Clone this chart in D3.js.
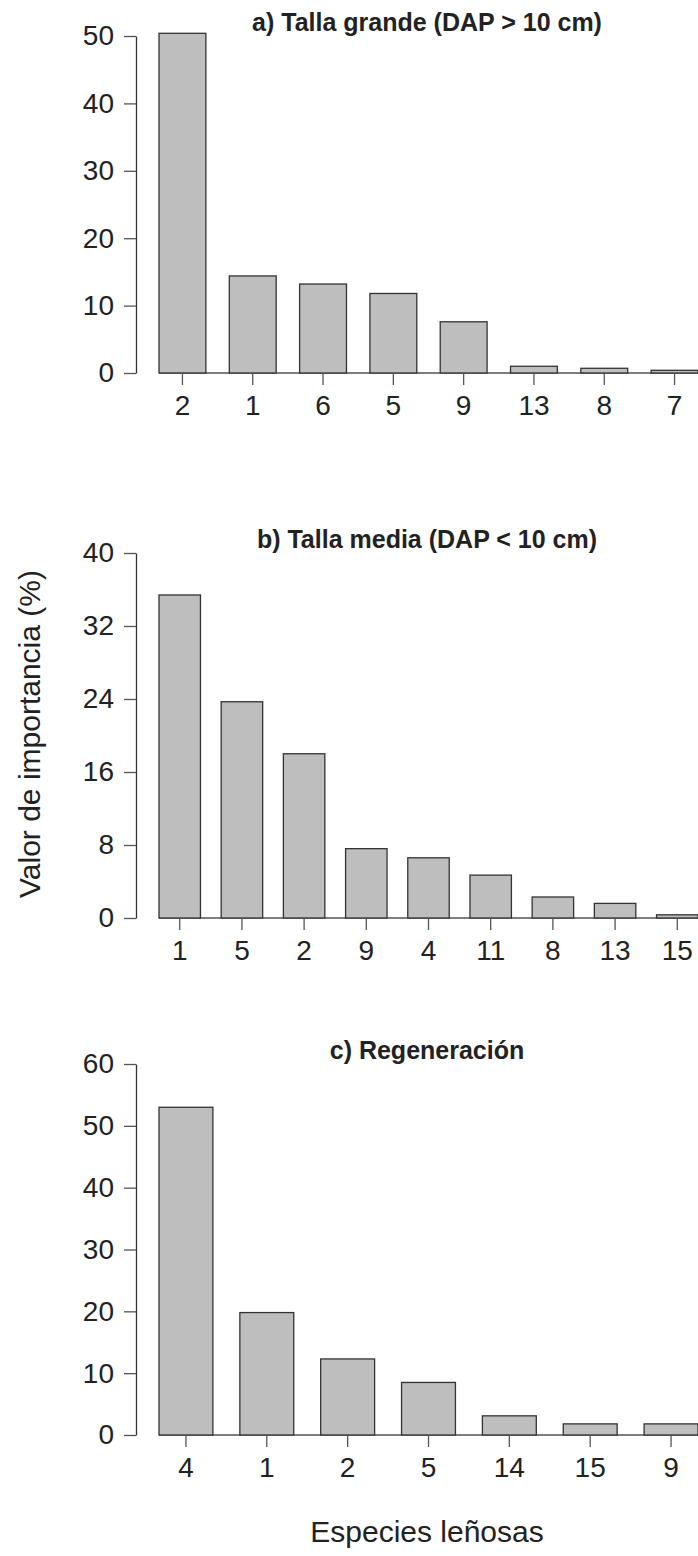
<!DOCTYPE html>
<html>
<head>
<meta charset="utf-8">
<script src="https://cdn.jsdelivr.net/npm/d3@7"></script>
<style>
  body { margin: 0; background: #fff; }
  svg { display: block; }
  text { font-family: "Liberation Sans", Arial, sans-serif; fill: #222; }
</style>
</head>
<body>
<div id="chart"></div>
<script>
// species order and importance values (%) per panel
var catsA = ["2", "1", "6", "5", "9", "13", "8", "7"];
var valsA = [50.4, 14.4, 13.2, 11.8, 7.6, 1.0, 0.7, 0.4];
var ticksA = [0, 10, 20, 30, 40, 50];

var catsB = ["1", "5", "2", "9", "4", "11", "8", "13", "15"];
var valsB = [35.4, 23.7, 18.0, 7.6, 6.6, 4.7, 2.3, 1.6, 0.35];
var ticksB = [0, 8, 16, 24, 32, 40];

var catsC = ["4", "1", "2", "5", "14", "15", "9"];
var valsC = [53.0, 19.8, 12.3, 8.5, 3.1, 1.8, 1.8];
var ticksC = [0, 10, 20, 30, 40, 50, 60];

var titles = ["a) Talla grande (DAP > 10 cm)", "b) Talla media (DAP < 10 cm)", "c) Regeneración"];

var width = 698, height = 1556;
var axisX = 136, barLeft = 159, barRight = 698, titleX = 427;

var svg = d3.select("#chart").append("svg")
    .attr("width", width)
    .attr("height", height);

function panel(cats, vals, ticks, title, top, base) {
    var x = d3.scaleBand()
        .domain(cats)
        .range([barLeft, barRight])
        .paddingInner(1 / 3)
        .paddingOuter(0);

    var y = d3.scaleLinear()
        .domain([0, d3.max(ticks)])
        .range([base, top]);

    var g = svg.append("g");

    // baseline
    g.append("line")
        .attr("x1", barLeft).attr("x2", barRight)
        .attr("y1", y(0)).attr("y2", y(0))
        .attr("stroke", "#555").attr("stroke-width", 1.5);

    g.selectAll(".bar")
        .data(vals)
        .enter().append("rect")
        .attr("class", "bar")
        .attr("x", function (d, i) { return x(cats[i]); })
        .attr("y", function (d) { return y(d); })
        .attr("width", x.bandwidth())
        .attr("height", function (d) { return y(0) - y(d); })
        .attr("fill", "#bebebe")
        .attr("stroke", "#333")
        .attr("stroke-width", 1.3);

    // y axis
    var ya = g.append("g")
        .attr("transform", "translate(" + axisX + ",0)")
        .call(d3.axisLeft(y).tickValues(ticks).tickSize(12).tickSizeOuter(0).tickPadding(10));
    ya.select(".domain").attr("stroke", "#333").attr("stroke-width", 1.3);
    ya.selectAll(".tick line").attr("stroke", "#555").attr("stroke-width", 1.3);
    ya.selectAll(".tick text")
        .attr("font-size", 28).attr("font-family", null).attr("fill", "#222");

    // x axis (ticks only)
    var xa = g.append("g")
        .attr("transform", "translate(0," + y(0) + ")")
        .call(d3.axisBottom(x).tickSize(12).tickSizeOuter(0).tickPadding(10));
    xa.select(".domain").remove();
    xa.selectAll(".tick line").attr("stroke", "#555").attr("stroke-width", 1.3);
    xa.selectAll(".tick text")
        .attr("font-size", 28).attr("font-family", null).attr("fill", "#222");

    g.append("text")
        .attr("x", titleX).attr("y", top - 5)
        .attr("text-anchor", "middle")
        .attr("font-weight", "bold")
        .attr("font-size", 25)
        .text(title);
}

panel(catsA, valsA, ticksA, titles[0], 36, 373);
panel(catsB, valsB, ticksB, titles[1], 553, 918);
panel(catsC, valsC, ticksC, titles[2], 1064, 1435);

svg.append("text")
    .attr("transform", "translate(40,734) rotate(-90)")
    .attr("text-anchor", "middle")
    .attr("font-size", 30)
    .text("Valor de importancia (%)");

svg.append("text")
    .attr("x", titleX).attr("y", 1542)
    .attr("text-anchor", "middle")
    .attr("font-size", 30)
    .text("Especies leñosas");
</script>
</body>
</html>
